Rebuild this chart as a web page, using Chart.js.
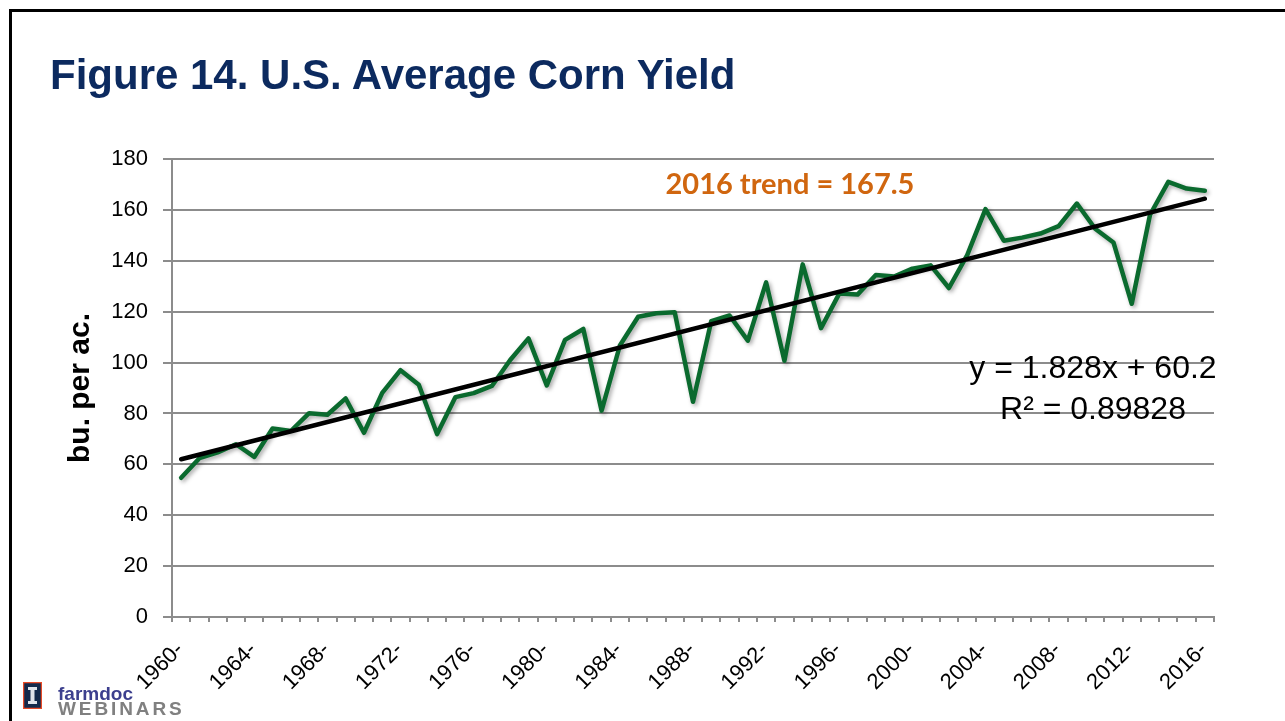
<!DOCTYPE html>
<html>
<head>
<meta charset="utf-8">
<script src="https://cdn.jsdelivr.net/npm/chart.js@4.4.1/dist/chart.umd.min.js"></script>
<style>
  html, body { margin: 0; padding: 0; background: #fff; }
  body { width: 1285px; height: 721px; position: relative; overflow: hidden; font-family: "Liberation Sans", Arial, sans-serif; }
  #frame { position: absolute; left: 9px; top: 9px; width: 1400px; height: 800px; border-top: 3px solid #000; border-left: 3px solid #000; }
  #wrap { position: absolute; left: 0; top: 0; width: 1285px; height: 721px; }
  .txt { position: absolute; white-space: nowrap; line-height: 1; }
  #title { left: 50px; top: 54px; font-size: 42px; font-weight: bold; color: #0c2a5f; }
  #trendNote { left: 640px; width: 300px; text-align: center; top: 168px; font-family: Lato, "Open Sans", sans-serif; font-weight: bold; font-size: 29px; color: #d0660f; }
  #eq1 { left: 943px; width: 300px; text-align: center; top: 351px; font-size: 32px; color: #000; }
  #eq2 { left: 943px; width: 300px; text-align: center; top: 392px; font-size: 32px; color: #000; }
  #logoI { position: absolute; left: 23px; top: 682px; width: 19px; height: 27px; }
  #farm { left: 58px; top: 684px; font-size: 19px; font-weight: bold; color: #3c3f8e; }
  #web { left: 58px; top: 699px; font-size: 19px; font-weight: bold; color: #808080; letter-spacing: 2.9px; }
</style>
</head>
<body>
<div id="frame"></div>
<div id="wrap"><canvas id="c" width="1285" height="721"></canvas></div>
<div class="txt" id="title">Figure 14. U.S. Average Corn Yield</div>
<div class="txt" id="trendNote">2016 trend = 167.5</div>
<div class="txt" id="eq1">y = 1.828x + 60.2</div>
<div class="txt" id="eq2">R² = 0.89828</div>
<svg id="logoI" viewBox="0 0 19 27">
  <rect x="0.5" y="0.5" width="18" height="26" fill="#13294b" stroke="#e84a27" stroke-width="1.5"/>
  <path d="M5 5 H14 V8 H11.5 V19 H14 V22 H5 V19 H7.5 V8 H5 Z" fill="#dfe3ea"/>
</svg>
<div class="txt" id="farm">farmdoc</div>
<div class="txt" id="web">WEBINARS</div>
<script>
// ---- data ----
const years = [1960,1961,1962,1963,1964,1965,1966,1967,1968,1969,
               1970,1971,1972,1973,1974,1975,1976,1977,1978,1979,
               1980,1981,1982,1983,1984,1985,1986,1987,1988,1989,
               1990,1991,1992,1993,1994,1995,1996,1997,1998,1999,
               2000,2001,2002,2003,2004,2005,2006,2007,2008,2009,
               2010,2011,2012,2013,2014,2015,2016];
const yields = [54.7,62.4,64.7,67.9,62.9,74.1,73.1,80.1,79.5,85.9,
                72.4,88.1,97.0,91.3,71.9,86.4,88.0,90.8,101.0,109.5,
                91.0,108.9,113.2,81.1,106.7,118.0,119.4,119.8,84.6,116.3,
                118.5,108.6,131.5,100.7,138.6,113.5,127.1,126.7,134.4,133.8,
                136.9,138.2,129.3,142.2,160.3,147.9,149.1,150.7,153.6,162.5,
                152.6,147.2,123.1,158.1,171.0,168.4,167.5];
const trendStart = 62.0;   // trend value at 1960
const trendEnd = 164.4;    // trend value at 2016
const shownTickLabels = ['1960-','1964-','1968-','1972-','1976-','1980-','1984-','1988-',
                         '1992-','1996-','2000-','2004-','2008-','2012-','2016-'];
const yTicks = [0,20,40,60,80,100,120,140,160,180];

// trend dataset: endpoints only, joined by spanGaps
const trend = years.map(() => null);
trend[0] = trendStart;
trend[trend.length - 1] = trendEnd;

const shadowPlugin = {
  id: 'lineShadow',
  beforeDatasetDraw(chart, args) {
    if (args.index !== 0) return;
    const ctx = chart.ctx;
    ctx.save();
    ctx.shadowColor = 'rgba(0,0,0,0.35)';
    ctx.shadowBlur = 4;
    ctx.shadowOffsetX = 2;
    ctx.shadowOffsetY = 2;
  },
  afterDatasetDraw(chart, args) {
    if (args.index !== 0) return;
    chart.ctx.restore();
  }
};

const gridColor = '#8c8c8c';
const fontFam = '"Liberation Sans", Arial, sans-serif';
new Chart(document.getElementById('c'), {
  type: 'line',
  data: {
    labels: years.map(String),
    datasets: [
      { data: yields, borderColor: '#0a6a2e', borderWidth: 4.5, pointRadius: 0, tension: 0,
        borderJoinStyle: 'round', borderCapStyle: 'round', order: 1 },
      { data: trend, borderColor: '#000000', borderWidth: 4.5, pointRadius: 0, tension: 0,
        spanGaps: true, borderCapStyle: 'round', order: 0 }
    ]
  },
  options: {
    responsive: false,
    animation: false,
    events: [],
    layout: { padding: { left: 58, right: 71, top: 159, bottom: 0 } },
    plugins: { legend: { display: false }, tooltip: { enabled: false } },
    scales: {
      x: {
        type: 'category',
        offset: true,
        grid: { offset: true, drawOnChartArea: false, tickLength: 5, color: gridColor, lineWidth: 2 },
        border: { color: gridColor, width: 2 },
        ticks: {
          autoSkip: false, maxRotation: 45, minRotation: 45, padding: 15, labelOffset: -1,
          color: '#000', font: { family: fontFam, size: 22 },
          callback: function(v, i) {
            const lab = this.getLabelForValue(v) + '-';
            return shownTickLabels.includes(lab) ? lab : '';
          }
        },
        afterFit: (s) => { s.height = 104; s.paddingLeft = 0; s.paddingRight = 0; }
      },
      y: {
        min: 0, max: 180,
        afterBuildTicks: (s) => { s.ticks = yTicks.map(v => ({ value: v })); },
        grid: { color: gridColor, lineWidth: 2, tickLength: 9 },
        border: { color: gridColor, width: 2 },
        ticks: { padding: 15, color: '#000', font: { family: fontFam, size: 22 } },
        title: { display: true, text: 'bu. per ac.', color: '#000',
                 font: { family: fontFam, size: 30, weight: 'bold' },
                 padding: { top: 5, bottom: 0 } },
        afterFit: (s) => { s.width = 114; s.paddingTop = 0; s.paddingBottom = 0; }
      }
    }
  },
  plugins: [shadowPlugin]
});
</script>
</body>
</html>
